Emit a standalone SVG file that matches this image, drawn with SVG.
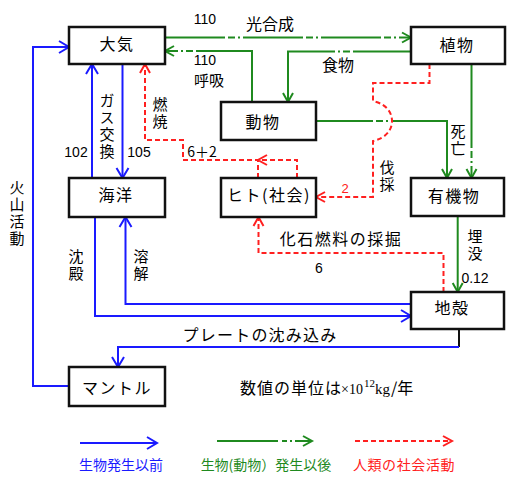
<svg xmlns="http://www.w3.org/2000/svg" width="507" height="483" viewBox="0 0 507 483">
<style>
text{font-family:"Noto Sans CJK JP","Noto Sans",sans-serif;fill:#000}
.box{fill:#fff;stroke:#111;stroke-width:2.5}
.lb{font-size:16px;letter-spacing:1.5px;text-anchor:middle}
.lab{font-size:16px;text-anchor:middle}
.vt{font-size:15px;writing-mode:vertical-rl;text-orientation:upright;letter-spacing:2px}
.num{font-size:14px;text-anchor:middle;font-family:"Liberation Sans",sans-serif}
.b{fill:none;stroke:#1a1aff;stroke-width:2}
.g{fill:none;stroke:#1f8a1f;stroke-width:2}
.r{fill:none;stroke:#ff2020;stroke-width:2;stroke-dasharray:5 3}
.k{fill:none;stroke:#111;stroke-width:2}
</style>
<defs>
<marker id="ab" markerUnits="userSpaceOnUse" markerWidth="14" markerHeight="14" refX="10" refY="6" orient="auto" overflow="visible"><path d="M0,0 L10,6 L0,12" fill="none" stroke="#1a1aff" stroke-width="2"/></marker>
<marker id="ag" markerUnits="userSpaceOnUse" markerWidth="14" markerHeight="14" refX="9" refY="5" orient="auto" overflow="visible"><path d="M0,0 L9,5 L0,10" fill="none" stroke="#1f8a1f" stroke-width="2"/></marker>
<marker id="ar" markerUnits="userSpaceOnUse" markerWidth="14" markerHeight="14" refX="9" refY="5" orient="auto" overflow="visible"><path d="M0,0 L9,5 L0,10" fill="none" stroke="#ff2020" stroke-width="2"/></marker>
</defs>

<g id="connectors">
<path class="b" d="M69,386 H33 V47 H69" marker-end="url(#ab)"/>
<path class="b" d="M92,178 V64" marker-end="url(#ab)"/>
<path class="b" d="M122.5,64 V178" marker-end="url(#ab)"/>
<path class="b" d="M95,217 V316 H411" marker-end="url(#ab)"/>
<path class="b" d="M411,304 H125.5 V217" marker-end="url(#ab)"/>
<path class="k" d="M459,329 V347"/>
<path class="b" d="M459,347 H118 V367" marker-end="url(#ab)"/>
<path class="g" d="M165,37.5 H411" stroke-dasharray="60 3 7 3 2 3" marker-end="url(#ag)"/>
<path class="g" d="M252,102 V51 H165" stroke-dasharray="107 3 7 3 2 3 20" marker-end="url(#ag)"/>
<path class="g" d="M411,51.5 H288 V102" stroke-dasharray="58 3 7 3 2 3 300" marker-end="url(#ag)"/>
<path class="g" d="M316,121 H447 V178" stroke-dasharray="57 3 7 3 2 3 500" marker-end="url(#ag)"/>
<path class="g" d="M471.5,64 V178" stroke-dasharray="84 3 7 3 2 3 100" marker-end="url(#ag)"/>
<path class="g" d="M457.7,216 V292" marker-end="url(#ag)"/>
<path class="r" d="M297,178 V160 H258" marker-end="url(#ar)"/>
<path class="r" d="M258,178 V160 H183 V140 H145 V64" marker-end="url(#ar)"/>
<path class="r" d="M429.5,64 V83 H373 V101 C386,104 392,112 392,121 C392,130 386,138 373,141 V197 H316" marker-end="url(#ar)"/>
<path class="r" d="M443.5,292 V253 H258.5 V217" marker-end="url(#ar)"/>
</g>

<g id="taiki"><rect class="box" x="69" y="27" width="96" height="37"/><text class="lb" x="117" y="50">大気</text></g>
<g id="shokubutsu"><rect class="box" x="411" y="27" width="94" height="37"/><text class="lb" x="457" y="51">植物</text></g>
<g id="doubutsu"><rect class="box" x="221" y="102" width="95" height="38"/><text class="lb" x="263" y="127.5">動物</text></g>
<g id="kaiyou"><rect class="box" x="69" y="178" width="96" height="39"/><text class="lb" x="116" y="201">海洋</text></g>
<g id="hito"><rect class="box" x="221" y="178" width="95" height="39"/><text class="lb" x="269" y="201">ヒト(社会)</text></g>
<g id="yuukibutsu"><rect class="box" x="411" y="178" width="93" height="38"/><text class="lb" x="454" y="202">有機物</text></g>
<g id="chikaku"><rect class="box" x="411" y="292" width="93" height="37"/><text class="lb" x="452" y="314">地殻</text></g>
<g id="mantle"><rect class="box" x="69" y="367" width="96" height="39"/><text class="lb" x="117" y="394" letter-spacing="3">マントル</text></g>

<g id="labels">
<text class="num" x="205" y="24">110</text>
<text class="lab" x="270" y="29.5">光合成</text>
<text class="num" x="205" y="65">110</text>
<text class="lab" x="209" y="86" style="font-size:15px">呼吸</text>
<text class="lab" x="338" y="71">食物</text>
<text class="num" x="76" y="157">102</text>
<text class="num" x="139" y="157">105</text>
<text x="202" y="157" style="font-size:14px;text-anchor:middle">6＋2</text>
<text class="vt" x="107" y="92.5">ガス交換</text>
<text class="vt" x="160" y="96.5">燃焼</text>
<text class="vt" x="458" y="124">死亡</text>
<text class="vt" x="387" y="159.5">伐採</text>
<text class="num" x="345" y="192.5" style="fill:#ff2020;font-size:13px">2</text>
<text class="vt" x="17" y="179.5">火山活動</text>
<text class="vt" x="76" y="249">沈殿</text>
<text class="vt" x="141" y="249">溶解</text>
<text class="lab" x="341" y="245" letter-spacing="1.5">化石燃料の採掘</text>
<text class="num" x="319" y="273">6</text>
<text class="vt" x="475" y="228.5">埋没</text>
<text class="num" x="475" y="283">0.12</text>
<text class="lab" x="260" y="341" letter-spacing="1.2">プレートの沈み込み</text>
<text style="font-size:16px"><tspan x="240" y="394" letter-spacing="1">数値の単位は</tspan><tspan x="341" y="394" style="font-family:'Liberation Serif',serif;font-size:14px">×10</tspan><tspan x="364" y="387" style="font-family:'Liberation Serif',serif;font-size:11px">12</tspan><tspan x="375" y="394" style="font-family:'Liberation Serif',serif;font-size:15px">kg</tspan><tspan x="391" y="394">/年</tspan></text>
</g>

<g id="legend">
<path class="b" d="M80,443 H157" marker-end="url(#ab)"/>
<path class="g" d="M217,441 H312" stroke-dasharray="61 4 5 3 2 3 20" marker-end="url(#ag)"/>
<path class="r" d="M355,441 H452" marker-end="url(#ar)"/>
<text x="121" y="470" style="font-size:14px;text-anchor:middle;fill:#1a1aff">生物発生以前</text>
<text x="266" y="470" style="font-size:14px;text-anchor:middle;fill:#1f8a1f">生物(動物）発生以後</text>
<text x="404" y="470" style="font-size:14px;text-anchor:middle;fill:#ff2020" letter-spacing="0.6">人類の社会活動</text>
</g>
</svg>
